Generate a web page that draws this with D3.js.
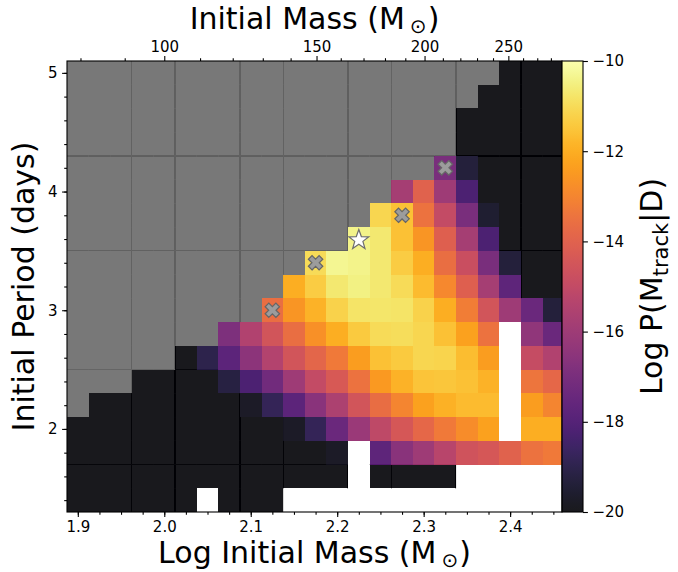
<!DOCTYPE html>
<html>
<head>
<meta charset="utf-8">
<title>Log P(M_track|D) over initial mass and period</title>
<script src="https://d3js.org/d3.v7.min.js"></script>
<style>
  body { margin: 0; background: #fff; }
  svg { font-family: "DejaVu Sans", sans-serif; }
  .tick text { font-size: 15px; font-family: "DejaVu Sans", sans-serif; fill: #000; }
  .tick line { stroke: #000; stroke-width: 1.1px; }
  .axis-label { font-size: 30px; fill: #000; }
</style>
</head>
<body>
<svg width="678" height="572"></svg>
<script>
// grid cell centres
const logMass = [1.900, 1.925, 1.950, 1.975, 2.000, 2.025, 2.050, 2.075, 2.100, 2.125, 2.150, 2.175,
                 2.200, 2.225, 2.250, 2.275, 2.300, 2.325, 2.350, 2.375, 2.400, 2.425, 2.450];
const period = [5.0, 4.8, 4.6, 4.4, 4.2, 4.0, 3.8, 3.6, 3.4, 3.2, 3.0, 2.8, 2.6, 2.4, 2.2, 2.0, 1.8, 1.6, 1.4];

// G = excluded (grey), K = at or below colour floor, _ = no model
const G = "mask", K = -20, _ = null;

// Log P(M_track|D), one row per period (top to bottom), one entry per log mass
const logProb = [
  [G,G,G,G,G, G,G,G,G,G, G,G,G,G,G, G,G,G,G,G, K,K,K],
  [G,G,G,G,G, G,G,G,G,G, G,G,G,G,G, G,G,G,G, K,K,K,K],
  [G,G,G,G,G, G,G,G,G,G, G,G,G,G,G, G,G,G, K,K,K,K,K],
  [G,G,G,G,G, G,G,G,G,G, G,G,G,G,G, G,G,G, K,K,K,K,K],
  [G,G,G,G,G, G,G,G,G,G, G,G,G,G,G, G,G, -17.0,-19.3, K,K,K,K],
  [G,G,G,G,G, G,G,G,G,G, G,G,G,G,G, -15.8,-14.0,-16.0,-18.2, K,K,K,K],
  [G,G,G,G,G, G,G,G,G,G, G,G,G,G, -11.1,-11.6,-13.5,-15.0,-17.0,-19.5, K,K,K],
  [G,G,G,G,G, G,G,G,G,G, G,G,G, -10.4,-10.7,-11.6,-12.6,-14.1,-15.8,-18.2, K,K,K],
  [G,G,G,G,G, G,G,G,G,G, G, -11.0,-10.35,-10.4,-10.7,-11.3,-12.0,-13.6,-14.8,-17.0,-19.3, K,K],
  [G,G,G,G,G, G,G,G,G,G, -12.0,-11.3,-10.7,-10.5,-10.7,-11.0,-11.7,-12.9,-14.1,-15.8,-17.7, K,K],
  [G,G,G,G,G, G,G,G,G, -13.6,-12.6,-11.9,-11.2,-10.8,-10.75,-10.8,-11.2,-12.0,-13.2,-14.5,-16.0,-17.4,-19.3],
  [G,G,G,G,G, G,G, -16.9,-15.5,-14.5,-13.6,-12.7,-12.0,-11.4,-11.0,-10.95,-11.1,-11.6,-12.3,-13.5, _, -16.4,-17.4],
  [G,G,G,G,G, K, -19.0,-17.8,-16.5,-15.4,-14.5,-13.9,-13.3,-12.4,-11.6,-11.4,-11.1,-11.15,-11.65,-12.4, _, -14.9,-15.5],
  [G,G,G, K,K,K,K, -19.2,-18.2,-17.2,-16.0,-15.0,-14.3,-13.5,-12.5,-11.9,-11.5,-11.45,-11.6,-11.9, _, -13.4,-13.8],
  [G, K,K,K,K,K,K,K, -19.7,-18.8,-17.8,-16.6,-15.6,-14.5,-13.65,-13.0,-12.3,-11.95,-11.7,-11.7, _, -12.4,-13.0],
  [K,K,K,K,K, K,K,K,K,K, -19.7,-18.8,-17.4,-16.1,-15.1,-14.4,-13.8,-13.3,-12.8,-12.3, _, -12.0,-12.0],
  [K,K,K,K,K, K,K,K,K,K, K,K, -19.7, _, -17.7,-16.6,-16.0,-15.3,-14.6,-14.4,-14.0,-13.5,-13.3],
  [K,K,K,K,K, K,K,K,K,K, K,K,K, _, K,K,K,K, _,_,_,_,_],
  [K,K,K,K,K, K, _, K,K,K, _,_,_,_,_, _,_,_,_,_, _,_,_]
];

// coarse grid edges seen through the grey / black cells
const coarseLogMass = [1.9625, 2.0125, 2.0875, 2.1375, 2.2125, 2.2625, 2.3375, 2.4125];
const coarsePeriod = [4.3, 3.5, 2.5, 1.7];

// highlighted tracks
const rejectedTracks = [
  { logM: 2.325, P: 4.2 },
  { logM: 2.275, P: 3.8 },
  { logM: 2.175, P: 3.4 },
  { logM: 2.125, P: 3.0 }
];
const bestTrack = [{ logM: 2.225, P: 3.6 }];

// ticks
const logMassTicks = [1.9, 2.0, 2.1, 2.2, 2.3, 2.4];
const massTicks = [100, 150, 200, 250];
const massMinorTicks = [80, 90, 110, 120, 130, 140, 160, 170, 180, 190, 210, 220, 230, 240, 260, 270, 280];
const periodTicks = [2, 3, 4, 5];
const cbarTicks = [-10, -12, -14, -16, -18, -20];

const svg = d3.select("svg");
const box = { left: 67, right: 562, top: 61, bottom: 512 };
const vmin = -20, vmax = -10;

const x = d3.scaleLinear().domain([1.8875, 2.46]).range([box.left, box.right]);
const y = d3.scaleLinear().domain([1.3, 5.1]).range([box.bottom, box.top]);
const xMass = d3.scaleLog().domain([Math.pow(10, 1.8875), Math.pow(10, 2.46)]).range([box.left, box.right]);
const dM = 0.0125, dP = 0.1;

const color = v => d3.interpolateInferno(Math.max(0, Math.min(1, (v - vmin) / (vmax - vmin))));

// flatten the table into cells
const cells = [];
logProb.forEach((row, i) => row.forEach((v, j) => {
  cells.push({ logM: logMass[j], P: period[i], v: v });
}));

const defs = svg.append("defs");
defs.append("clipPath").attr("id", "plotClip")
  .append("rect")
  .attr("x", box.left).attr("y", box.top)
  .attr("width", box.right - box.left).attr("height", box.bottom - box.top);

defs.append("clipPath").attr("id", "maskClip")
  .selectAll("rect")
  .data(cells.filter(d => d.v === G || (d.v !== null && d.v <= vmin)))
  .join("rect")
  .attr("x", d => x(d.logM - dM)).attr("y", d => y(d.P + dP))
  .attr("width", d => x(d.logM + dM) - x(d.logM - dM))
  .attr("height", d => y(d.P - dP) - y(d.P + dP));

const plot = svg.append("g").attr("clip-path", "url(#plotClip)");

// coarse edges, drawn under the semi-transparent cells
const edges = plot.append("g").attr("clip-path", "url(#maskClip)")
  .attr("stroke", "#000").attr("stroke-width", 1.2).attr("shape-rendering", "crispEdges");
edges.selectAll(".vline").data(coarseLogMass).join("line")
  .attr("x1", d => x(d)).attr("x2", d => x(d))
  .attr("y1", box.top).attr("y2", box.bottom);
edges.selectAll(".hline").data(coarsePeriod).join("line")
  .attr("x1", box.left).attr("x2", box.right)
  .attr("y1", d => y(d)).attr("y2", d => y(d));

plot.append("g").selectAll("rect")
  .data(cells.filter(d => d.v !== null))
  .join("rect")
  .attr("x", d => x(d.logM - dM)).attr("y", d => y(d.P + dP))
  .attr("width", d => x(d.logM + dM) - x(d.logM - dM))
  .attr("height", d => y(d.P - dP) - y(d.P + dP))
  .attr("fill", d => d.v === G ? "dimgray" : color(d.v))
  .attr("fill-opacity", 0.9)
  .attr("shape-rendering", "crispEdges");

// markers
function xMarker(L, a) {
  const pts = [[a, L], [a, a], [L, a], [L, -a], [a, -a], [a, -L], [-a, -L], [-a, -a], [-L, -a], [-L, a], [-a, a], [-a, L]];
  return "M" + pts.map(p => p.join(",")).join("L") + "Z";
}
function starMarker(R, r) {
  const pts = d3.range(10).map(k => {
    const ang = -Math.PI / 2 + k * Math.PI / 5;
    const rad = k % 2 === 0 ? R : r;
    return [rad * Math.cos(ang), rad * Math.sin(ang)];
  });
  return "M" + pts.map(p => p.join(",")).join("L") + "Z";
}

plot.append("g").selectAll("path")
  .data(rejectedTracks)
  .join("path")
  .attr("d", xMarker(7.6, 2.6))
  .attr("transform", d => `translate(${x(d.logM)},${y(d.P)}) rotate(45)`)
  .attr("fill", "#9c9c9c")
  .attr("stroke", "#666")
  .attr("stroke-width", 1.2);

plot.append("g").selectAll("path")
  .data(bestTrack)
  .join("path")
  .attr("d", starMarker(10.5, 4.3))
  .attr("transform", d => `translate(${x(d.logM)},${y(d.P) + 1})`)
  .attr("fill", "#fff")
  .attr("stroke", "#6e6e6e")
  .attr("stroke-width", 1.2);

// axes
function clean(g) {
  g.select(".domain").remove();
  g.attr("font-size", null).attr("font-family", null);
}

svg.append("g").attr("transform", `translate(0,${box.bottom})`)
  .call(d3.axisBottom(x).tickValues(logMass).tickSize(2.8).tickFormat(""))
  .call(clean);
svg.append("g").attr("transform", `translate(0,${box.bottom})`)
  .call(d3.axisBottom(x).tickValues(logMassTicks).tickSize(4.9).tickPadding(4.5).tickFormat(d3.format(".1f")))
  .call(clean);

svg.append("g").attr("transform", `translate(${box.left},0)`)
  .call(d3.axisLeft(y).tickValues(period).tickSize(2.8).tickFormat(""))
  .call(clean);
svg.append("g").attr("transform", `translate(${box.left},0)`)
  .call(d3.axisLeft(y).tickValues(periodTicks).tickSize(4.9).tickPadding(4.5).tickFormat(d3.format("d")))
  .call(clean);

svg.append("g").attr("transform", `translate(0,${box.top})`)
  .call(d3.axisTop(xMass).tickValues(massMinorTicks).tickSize(2.8).tickFormat(""))
  .call(clean);
svg.append("g").attr("transform", `translate(0,${box.top})`)
  .call(d3.axisTop(xMass).tickValues(massTicks).tickSize(4.9).tickPadding(4.5).tickFormat(d3.format("d")))
  .call(clean);

// frame
svg.append("rect")
  .attr("x", box.left).attr("y", box.top)
  .attr("width", box.right - box.left).attr("height", box.bottom - box.top)
  .attr("fill", "none").attr("stroke", "#000").attr("stroke-width", 1.1);

// colour bar
const cb = { x: box.right, w: 21 };
const c = d3.scaleLinear().domain([vmin, vmax]).range([box.bottom, box.top]);
const grad = defs.append("linearGradient").attr("id", "cbGrad")
  .attr("x1", 0).attr("y1", 1).attr("x2", 0).attr("y2", 0);
grad.selectAll("stop").data(d3.range(0, 1.0001, 0.02)).join("stop")
  .attr("offset", d => d)
  .attr("stop-color", d => d3.interpolateInferno(d))
  .attr("stop-opacity", 0.9);
svg.append("rect")
  .attr("x", cb.x).attr("y", box.top)
  .attr("width", cb.w).attr("height", box.bottom - box.top)
  .attr("fill", "url(#cbGrad)")
  .attr("stroke", "#000").attr("stroke-width", 1.1);
svg.append("g").attr("transform", `translate(${cb.x + cb.w},0)`)
  .call(d3.axisRight(c).tickValues(cbarTicks).tickSize(4.9).tickPadding(4.5).tickFormat(d3.format("d")))
  .call(clean);

// labels
const midX = (box.left + box.right) / 2;
const midY = (box.top + box.bottom) / 2;

function solarLabel(t, prefix) {
  t.append("tspan").text(prefix + " (M");
  t.append("tspan").attr("font-size", 20).attr("dx", 5).attr("dy", 4).text("\u2299");
  t.append("tspan").attr("dy", -4).attr("dx", 1).text(")");
}

svg.append("text").attr("class", "axis-label")
  .attr("x", midX).attr("y", 563).attr("text-anchor", "middle")
  .call(solarLabel, "Log Initial Mass");

svg.append("text").attr("class", "axis-label")
  .attr("x", midX).attr("y", 29).attr("text-anchor", "middle")
  .call(solarLabel, "Initial Mass");

svg.append("text").attr("class", "axis-label")
  .attr("transform", `translate(34,${midY}) rotate(-90)`)
  .attr("text-anchor", "middle")
  .text("Initial Period (days)");

const cbLabel = svg.append("text").attr("class", "axis-label")
  .attr("transform", `translate(662,${midY}) rotate(-90)`)
  .attr("text-anchor", "middle");
cbLabel.append("tspan").text("Log P(M");
cbLabel.append("tspan").attr("font-size", 21).attr("dy", 6).text("track");
cbLabel.append("tspan").attr("dy", -6).text("|D)");
</script>
</body>
</html>
